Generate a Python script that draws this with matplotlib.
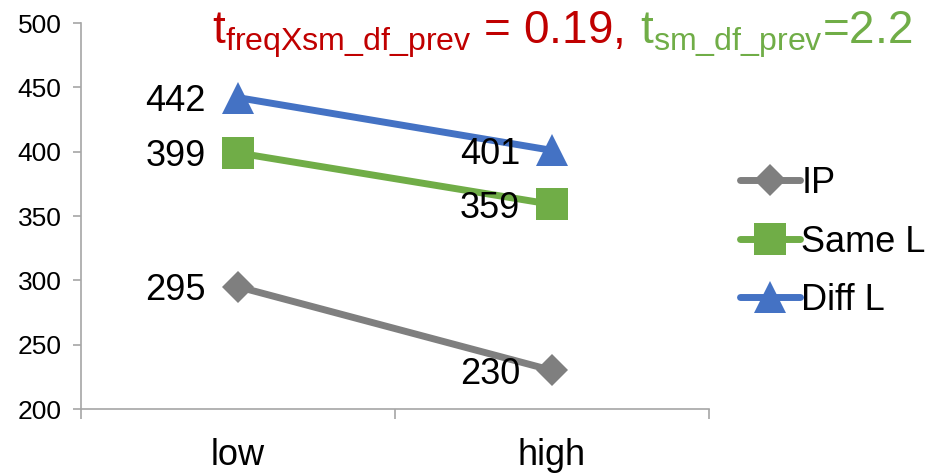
import matplotlib.pyplot as plt
from matplotlib.ticker import FixedLocator

plt.rcParams['font.family'] = ['Liberation Sans', 'DejaVu Sans']
plt.rcParams['mathtext.fontset'] = 'custom'
plt.rcParams['mathtext.rm'] = 'Liberation Sans'
plt.rcParams['mathtext.it'] = 'Liberation Sans:italic'

# data
categories = ['low', 'high']
ip = [295, 230]
same_l = [399, 359]
diff_l = [442, 401]
series_names = ['IP', 'Same L', 'Diff L']
y_ticks = [200, 250, 300, 350, 400, 450, 500]

colors = ['#7F7F7F', '#70AD47', '#4472C4']
markers = ['D', 's', '^']
msizes = [16.5, 23, 23]

fig = plt.figure(figsize=(9.3, 4.73), dpi=100)
ax = fig.add_axes([81 / 930, 1 - 409 / 473, 628 / 930, 386 / 473])

x = list(range(len(categories)))
for vals, name, c, m, ms in zip([ip, same_l, diff_l], series_names, colors, markers, msizes):
    ax.plot(x, vals, color=c, lw=5, marker=m, markersize=ms, label=name,
            solid_capstyle='round', markeredgewidth=0)
    for xi, v in zip(x, vals):
        ax.annotate(str(v), (xi, v), xytext=(-23, 0), textcoords='offset points',
                    ha='right', va='center_baseline', fontsize=26)

ax.set_xlim(-0.5, 1.5)
ax.set_ylim(200, 500)
ax.set_yticks(y_ticks)
ax.set_xticks(x)
ax.set_xticklabels(categories, fontsize=26)
ax.xaxis.set_minor_locator(FixedLocator([-0.5, 0.5, 1.5]))
ax.tick_params(axis='x', which='major', length=0, pad=21)
ax.tick_params(axis='x', which='minor', length=7, color='#A6A6A6', width=1.2)
ax.tick_params(axis='y', labelsize=19, length=6, color='#A6A6A6', width=1.2, pad=8)

for s in ['top', 'right']:
    ax.spines[s].set_visible(False)
for s in ['left', 'bottom']:
    ax.spines[s].set_color('#A6A6A6')
    ax.spines[s].set_linewidth(1.2)

# title made of two coloured pieces
t1 = fig.text(212 / 930, 1 - 44 / 473, r'$\mathregular{t_{freqXsm\_df\_prev}}$ = 0.19,',
              color='#C00000', fontsize=33, ha='left', va='baseline')
ax.annotate(r'$\mathregular{t_{sm\_df\_prev}}$=2.2', xy=(1, 0), xycoords=t1,
            xytext=(12, 0), textcoords='offset points',
            color='#70AD47', fontsize=33, ha='left', va='bottom',
            annotation_clip=False)

fig.legend(loc='center left', bbox_to_anchor=(740 / 930, 1 - 242 / 473),
           frameon=False, fontsize=26, handlelength=1.65, handletextpad=0.05,
           labelspacing=0.65, borderpad=0, borderaxespad=0)

fig.savefig('out.png', dpi=100)
